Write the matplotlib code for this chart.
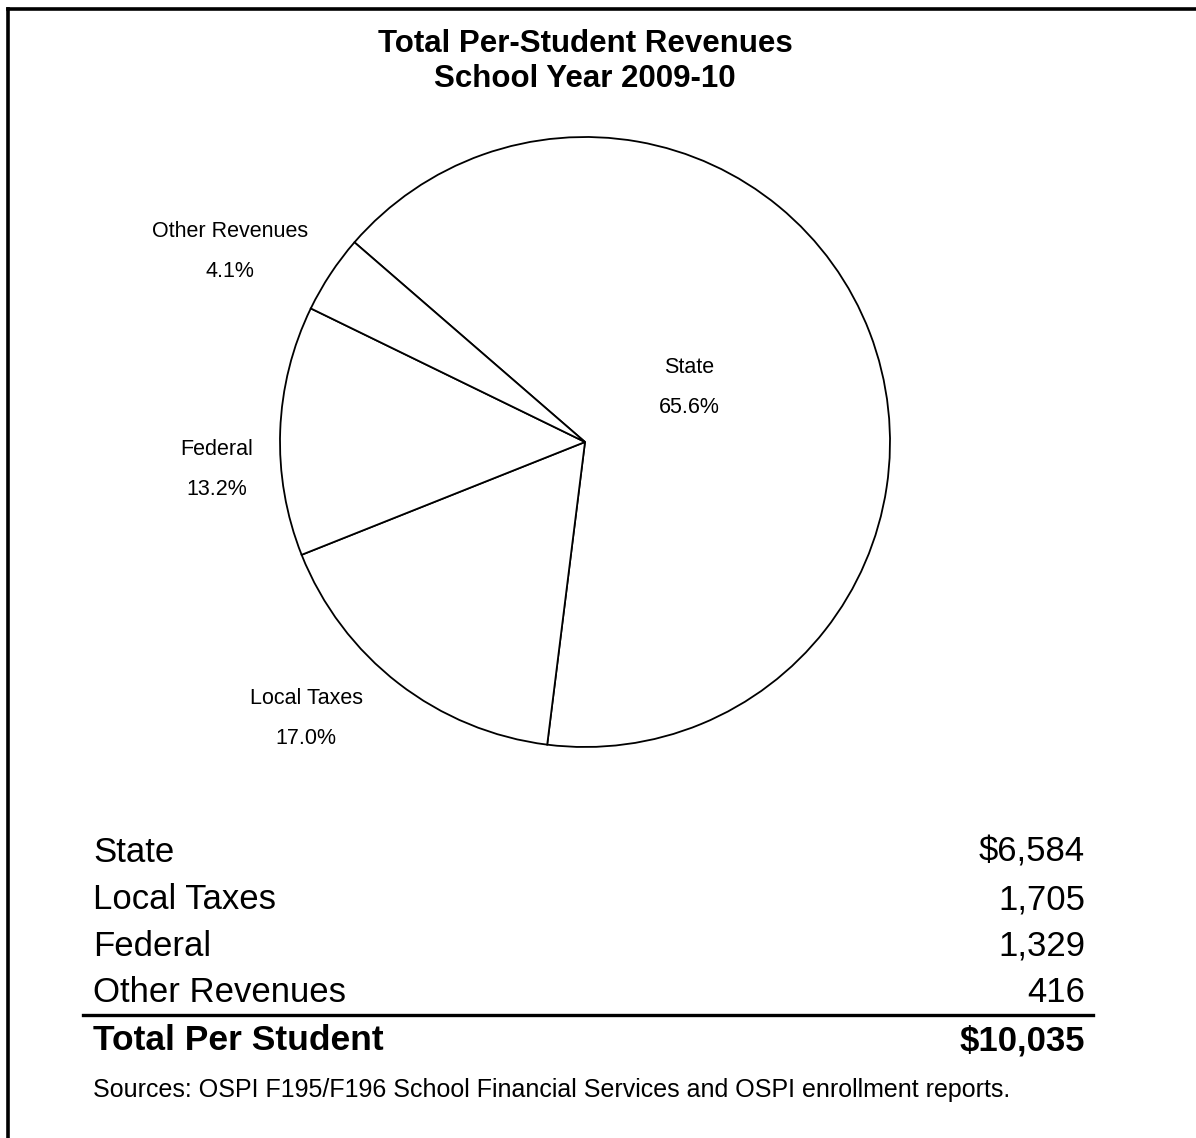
import matplotlib
matplotlib.use("Agg")
import matplotlib.pyplot as plt
from matplotlib.lines import Line2D

plt.rcParams['font.family'] = ['Liberation Sans', 'DejaVu Sans']

# Per-student revenue by source, school year 2009-10 (dollars)
categories = ["State", "Local Taxes", "Federal", "Other Revenues"]
amounts = [6584, 1705, 1329, 416]
amount_labels = ["$6,584", "1,705", "1,329", "416"]
total_label = "Total Per Student"
total_amount = "$10,035"
pct_labels = ["65.6%", "17.0%", "13.2%", "4.1%"]

title_lines = ["Total Per-Student Revenues", "School Year 2009-10"]
source_note = "Sources: OSPI F195/F196 School Financial Services and OSPI enrollment reports."

W, H = 1196, 1138
fig = plt.figure(figsize=(W / 100, H / 100), dpi=100)
ax = fig.add_axes([0, 0, 1, 1])


def py(y):
    # convert a top-down pixel row into the axes' upward y coordinate
    return H - y


# pie drawn clockwise, State starting in the upper left
cx, cy, r = 585, py(442), 305
ax.pie(amounts, startangle=139.1, counterclock=False, center=(cx, cy), radius=r,
       colors=["white"] * len(amounts),
       wedgeprops=dict(edgecolor="black", linewidth=1.3))

ax.set_xlim(0, W)
ax.set_ylim(0, H)
ax.set_aspect("equal")
ax.axis("off")

# slice labels: name above, share below
label_pos = {
    "State": (689, 373),
    "Local Taxes": (306, 704),
    "Federal": (217, 455),
    "Other Revenues": (230, 237),
}
for cat, pct in zip(categories, pct_labels):
    x, yb = label_pos[cat]
    ax.text(x, py(yb), cat, ha="center", va="baseline", fontsize=15.5)
    ax.text(x, py(yb + 40), pct, ha="center", va="baseline", fontsize=15.5)

# title
for line, yb in zip(title_lines, [52, 87]):
    ax.text(585, py(yb), line, ha="center", va="baseline",
            fontsize=22.5, fontweight="bold")

# amounts table
row_base = [862, 909, 956, 1002]
for cat, amt, yb in zip(categories, amount_labels, row_base):
    ax.text(93, py(yb), cat, ha="left", va="baseline", fontsize=25)
    ax.text(1085, py(yb), amt, ha="right", va="baseline", fontsize=25)

ax.add_line(Line2D([83, 1093], [py(1015), py(1015)], color="black", linewidth=2.4))
ax.text(93, py(1050), total_label, ha="left", va="baseline", fontsize=25.5,
        fontweight="bold")
ax.text(1085, py(1050), total_amount, ha="right", va="baseline", fontsize=25,
        fontweight="bold")

ax.text(93, py(1097), source_note, ha="left", va="baseline", fontsize=18)

# outer frame (top and left edges)
ax.add_line(Line2D([7.5, W], [py(8.5), py(8.5)], color="black", linewidth=2.6,
                   solid_capstyle="projecting"))
ax.add_line(Line2D([7.5, 7.5], [py(8.5), 0], color="black", linewidth=2.6,
                   solid_capstyle="projecting"))

fig.savefig("out.png", dpi=100, facecolor="white")
